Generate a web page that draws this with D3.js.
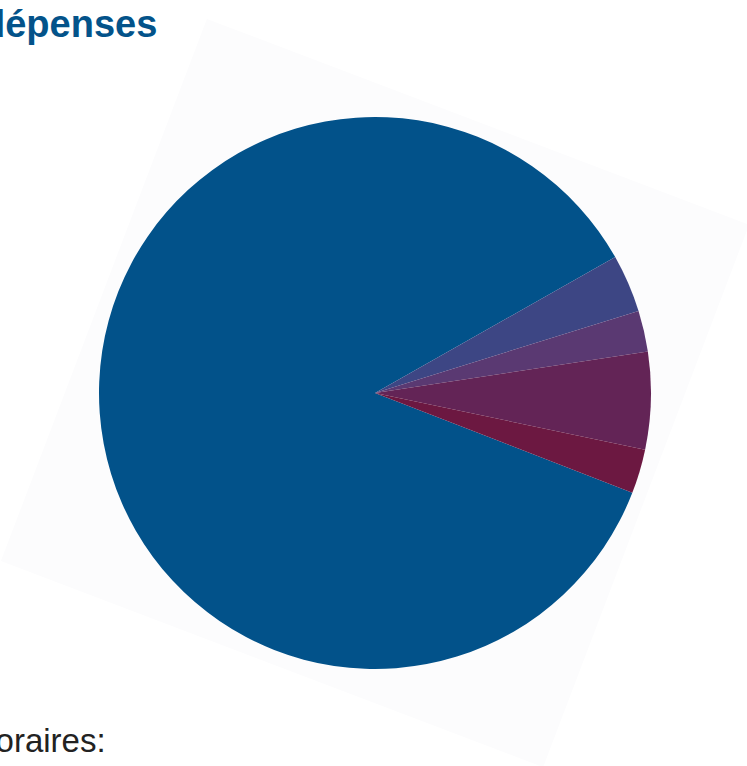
<!DOCTYPE html>
<html>
<head>
<meta charset="utf-8">
<script src="https://cdn.jsdelivr.net/npm/d3@7"></script>
<style>
  body { margin: 0; background: #fff; }
  svg { display: block; font-family: "Liberation Sans", Arial, sans-serif; }
</style>
</head>
<body>
<div id="chart-area"></div>
<script>
// Slices, in drawing order (clockwise)
var categories = ["Poste 1", "Poste 2", "Poste 3", "Poste 4", "Poste 5"];
var values = [86.0, 3.4, 2.4, 5.7, 2.6];
var colors = ["#02528a", "#3d4684", "#5a3972", "#632456", "#6c1841"];

var width = 747,
    height = 766;

var cx = 375, cy = 393, radius = 276;

var svg = d3.select("#chart-area")
    .append("svg")
    .attr("width", width)
    .attr("height", height);

// faint rotated backdrop
svg.append("rect")
    .attr("x", -290)
    .attr("y", -290)
    .attr("width", 580)
    .attr("height", 580)
    .attr("fill", "#fcfcfd")
    .attr("transform", "translate(" + cx + "," + cy + ") rotate(20.8)");

// Title
svg.append("text")
    .attr("x", -18)
    .attr("y", 37)
    .attr("font-size", "38px")
    .attr("font-weight", "bold")
    .attr("fill", "#03538a")
    .text("dépenses");

var pie = d3.pie()
    .sort(null)
    .value(function(d){ return d; })
    .startAngle(111.2 * Math.PI / 180)
    .endAngle(111.2 * Math.PI / 180 + 2 * Math.PI);

var arc = d3.arc()
    .innerRadius(0)
    .outerRadius(radius);

var g = svg.append("g")
    .attr("transform", "translate(" + cx + "," + cy + ")");

g.selectAll("path")
    .data(pie(values))
    .enter()
    .append("path")
    .attr("d", arc)
    .attr("fill", function(d, i){ return colors[i]; })
    .append("title")
    .text(function(d, i){ return categories[i]; });

// Bottom label
svg.append("text")
    .attr("x", -65)
    .attr("y", 752)
    .attr("font-size", "33px")
    .attr("fill", "#222")
    .text("Honoraires:");
</script>
</body>
</html>
